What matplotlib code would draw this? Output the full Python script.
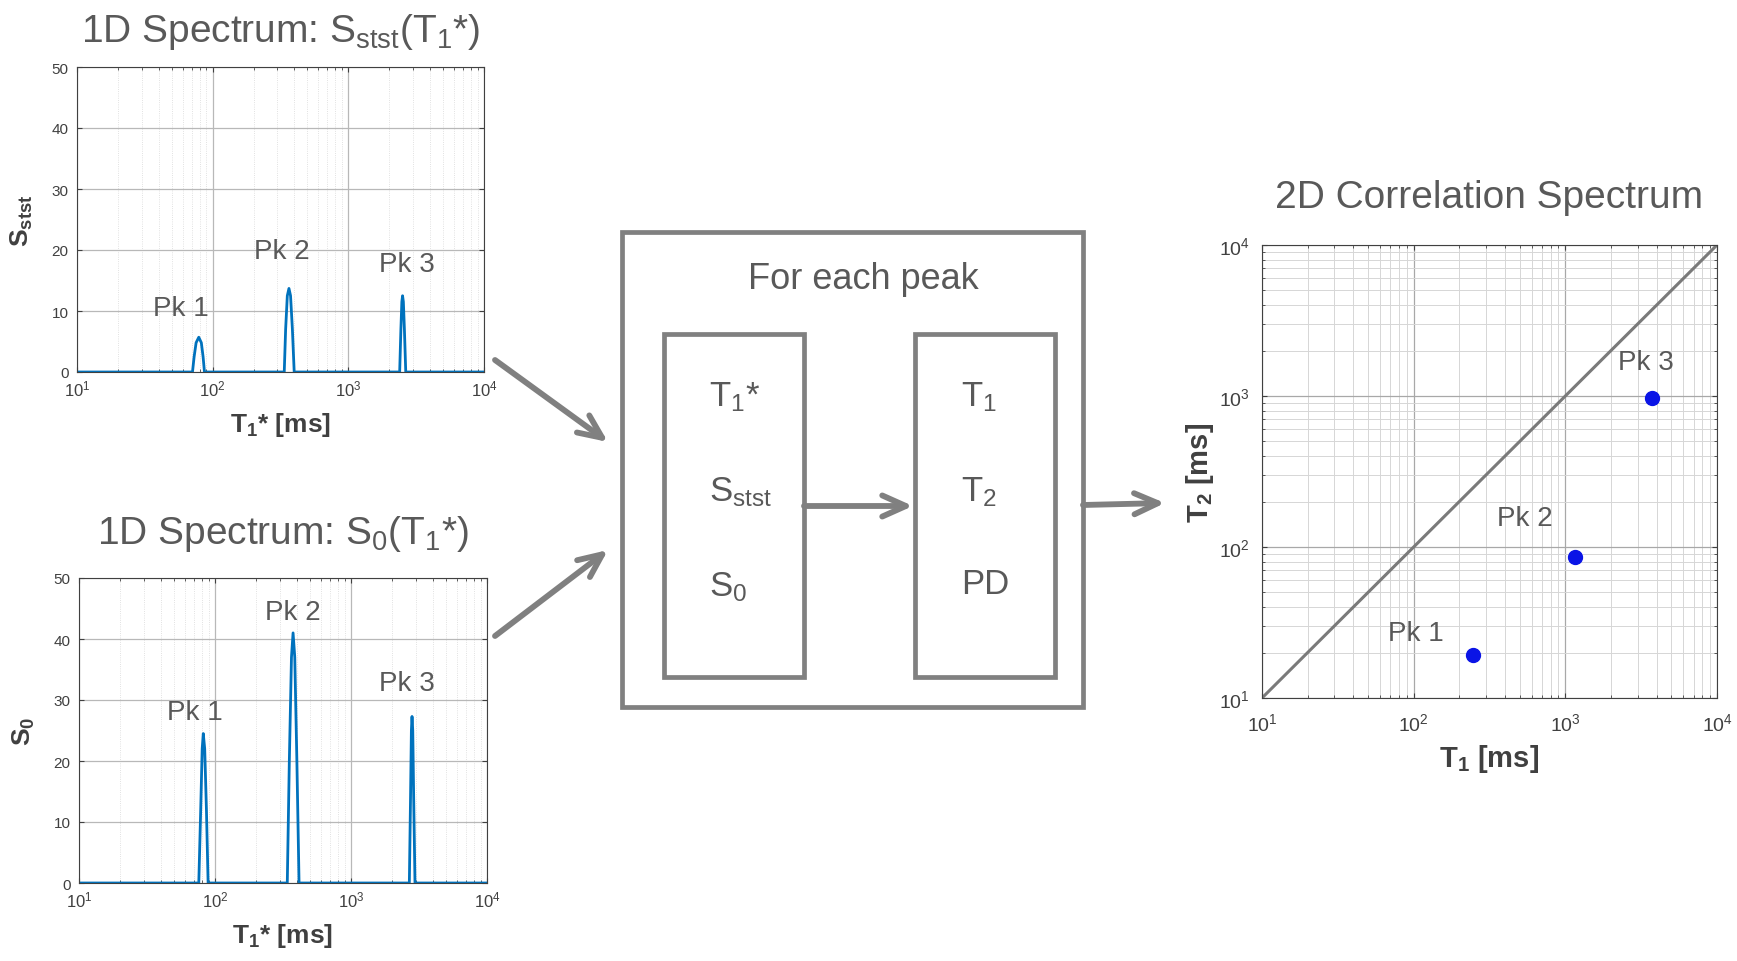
import matplotlib
matplotlib.use("Agg")
import matplotlib.pyplot as plt
from matplotlib.patches import Rectangle, FancyArrowPatch
from matplotlib.ticker import LogLocator, NullFormatter

plt.rcParams["font.family"] = ["Liberation Sans", "DejaVu Sans"]
plt.rcParams["mathtext.fontset"] = "custom"
plt.rcParams["mathtext.rm"] = "Liberation Sans"
plt.rcParams["mathtext.it"] = "Liberation Sans:italic"
plt.rcParams["mathtext.bf"] = "Liberation Sans:bold"

# spectrum S_stst(T1*)
stst_t = [10, 71, 73, 75.5, 79, 82.5, 85, 87, 337, 345, 355, 365, 375, 387, 399,
          2390, 2440, 2480, 2510, 2545, 2590, 2650, 10000]
stst_y = [0, 0, 2.5, 4.8, 5.7, 4.8, 2.5, 0, 0, 7, 12.5, 13.7, 12.5, 7, 0,
          0, 7, 11.5, 12.5, 11.5, 7, 0, 0]
stst_lbl_x = [58, 321, 2680]
stst_lbl_y = [10.5, 19.8, 17.7]

# spectrum S0(T1*)
s0_t = [10, 76, 78.5, 80.5, 82, 84, 86.5, 89, 340, 352, 365, 375, 386, 400, 415,
        2685, 2740, 2780, 2810, 2845, 2890, 2955, 10000]
s0_y = [0, 0, 12, 22, 24.5, 22, 12, 0, 0, 20, 37, 41, 37, 20, 0,
        0, 14, 25, 27.3, 25, 14, 0, 0]
s0_lbl_x = [70.7, 372, 2570]
s0_lbl_y = [28, 44.4, 32.8]

# 2D correlation peaks
peak_names = ["Pk 1", "Pk 2", "Pk 3"]
t1_vals = [245, 1164, 3700]
t2_vals = [19.3, 86, 975]
pk2d_lbl_x = [103, 540, 3375]
pk2d_lbl_y = [27, 156, 1670]

W, H = 1737, 962
TXT = "#595959"
BOX = "#808080"
AXC = "#404040"

fig = plt.figure(figsize=(W / 100, H / 100), dpi=100)

# diagram layer (pixel coordinates)
bg = fig.add_axes([0, 0, 1, 1])
bg.set_xlim(0, W)
bg.set_ylim(H, 0)
bg.axis("off")

for (x0, y0, x1, y1) in [(622, 233, 1083, 708), (664, 335, 804, 678), (915, 335, 1055, 678)]:
    bg.add_patch(Rectangle((x0, y0), x1 - x0, y1 - y0, fill=False, ec=BOX, lw=3.4))

bg.text(863, 280, "For each peak", ha="center", va="center", fontsize=26, color=TXT)
for y, s in [(397, r"$\mathregular{T_1}$*"), (492, r"$\mathregular{S_{stst}}$"), (587, r"$\mathregular{S_0}$")]:
    bg.text(709, y, s, ha="left", va="center", fontsize=25, color=TXT)
for y, s in [(397, r"$\mathregular{T_1}$"), (492, r"$\mathregular{T_2}$"), (585, "PD")]:
    bg.text(961, y, s, ha="left", va="center", fontsize=25, color=TXT)

for (p0, p1) in [((495, 361), (608, 443)), ((495, 637), (608, 551)),
                 ((804, 507), (913, 507)), ((1083, 506), (1165, 504))]:
    bg.add_patch(FancyArrowPatch(p0, p1, arrowstyle="->,head_length=0.85,head_width=0.38",
                                 mutation_scale=20, color=BOX, lw=4.2, capstyle="round",
                                 joinstyle="round", shrinkA=0, shrinkB=0))


def spectrum_axes(rect, t, y, lx, ly, ylab, title, tpad):
    ax = fig.add_axes(rect)
    ax.plot(t, y, color="#0072BD", lw=2)
    ax.set_xscale("log")
    ax.set_xlim(10, 1e4)
    ax.set_ylim(0, 50)
    ax.set_yticks([0, 10, 20, 30, 40, 50])
    ax.xaxis.set_minor_locator(LogLocator(base=10, subs=range(2, 10)))
    ax.xaxis.set_minor_formatter(NullFormatter())
    ax.grid(True, which="major", color="#b8b8b8", lw=0.9)
    ax.grid(True, which="minor", axis="x", color="#d8d8d8", lw=0.6, ls=":")
    ax.set_axisbelow(True)
    ax.tick_params(which="both", direction="in", top=True, right=True, colors=AXC)
    ax.tick_params(axis="y", labelsize=11, pad=6)
    ax.tick_params(axis="x", labelsize=12, pad=5)
    for sp in ax.spines.values():
        sp.set_color(AXC)
        sp.set_linewidth(0.8)
    for name, x_, y_ in zip(peak_names, lx, ly):
        ax.text(x_, y_, name, ha="center", va="center", fontsize=20, color=TXT)
    ax.set_xlabel(r"$\mathbf{T_1}$* [ms]", fontsize=19, fontweight="bold", color=AXC, labelpad=8)
    ax.set_ylabel(ylab, fontsize=19, fontweight="bold", color=AXC, labelpad=12)
    ax.set_title(title, fontsize=28, color=TXT, pad=tpad)
    return ax


spectrum_axes([77 / W, 1 - 373 / H, 407 / W, 305 / H], stst_t, stst_y, stst_lbl_x, stst_lbl_y,
              r"$\mathbf{S_{stst}}$", r"1D Spectrum: $\mathregular{S_{stst}(T_1}$*)", 19)
spectrum_axes([79 / W, 1 - 884 / H, 408 / W, 305 / H], s0_t, s0_y, s0_lbl_x, s0_lbl_y,
              r"$\mathbf{S_0}$", r"1D Spectrum: $\mathregular{S_0(T_1}$*)", 25)

# 2D correlation spectrum
ax = fig.add_axes([1262 / W, 1 - 699 / H, 455 / W, 453 / H])
ax.set_xscale("log")
ax.set_yscale("log")
ax.set_xlim(10, 1e4)
ax.set_ylim(10, 1e4)
ax.plot([10, 1e4], [10, 1e4], color="#7a7a7a", lw=2.2)
ax.plot(t1_vals, t2_vals, "o", color="#0a14e6", ms=10, mec="#0a14e6")
for name, x_, y_ in zip(peak_names, pk2d_lbl_x, pk2d_lbl_y):
    ax.text(x_, y_, name, ha="center", va="center", fontsize=20, color=TXT)
for a in (ax.xaxis, ax.yaxis):
    a.set_minor_locator(LogLocator(base=10, subs=range(2, 10)))
    a.set_minor_formatter(NullFormatter())
ax.grid(True, which="major", color="#a8a8a8", lw=0.9)
ax.grid(True, which="minor", color="#d6d6d6", lw=0.7)
ax.set_axisbelow(True)
ax.tick_params(which="both", direction="in", top=True, right=True, colors=AXC)
ax.tick_params(axis="x", labelsize=14, pad=10)
ax.tick_params(axis="y", labelsize=14, pad=9)
for sp in ax.spines.values():
    sp.set_color(AXC)
    sp.set_linewidth(0.8)
ax.set_xlabel(r"$\mathbf{T_1}$ [ms]", fontsize=21, fontweight="bold", color=AXC, labelpad=6)
ax.set_ylabel(r"$\mathbf{T_2}$ [ms]", fontsize=21, fontweight="bold", color=AXC, labelpad=2)
ax.set_title("2D Correlation Spectrum", fontsize=28, color=TXT, pad=27)

fig.savefig("out.png", dpi=100)
